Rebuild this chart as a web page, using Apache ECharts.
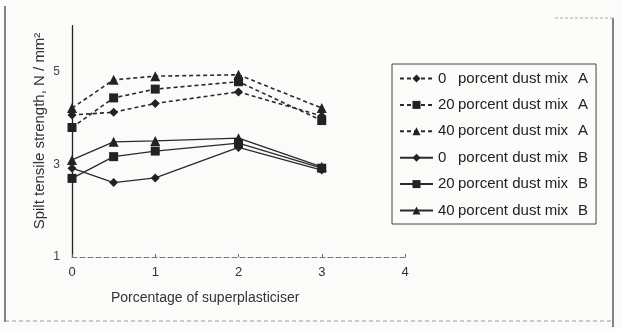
<!DOCTYPE html>
<html><head><meta charset="utf-8">
<script src="https://cdn.jsdelivr.net/npm/echarts@6/dist/echarts.min.js"></script>
<style>html,body{margin:0;padding:0;background:#fbfbf9}#c{width:622px;height:329px}</style>
</head><body><div id="c"></div>
<script>
const xValues = [0, 0.5, 1, 2, 3];
const percents = ['0', '20', '40'];
const mixes = ['A', 'B'];
const symbols = ['diamond', 'rect', 'triangle'];
// values per mix, per percent
const mixA0 = [4.07, 4.13, 4.32, 4.57, 4.05];
const mixA20 = [3.80, 4.44, 4.63, 4.79, 3.95];
const mixA40 = [4.22, 4.83, 4.91, 4.94, 4.22];
const mixB0 = [2.92, 2.61, 2.71, 3.37, 2.88];
const mixB20 = [2.70, 3.17, 3.29, 3.46, 2.92];
const mixB40 = [3.10, 3.49, 3.51, 3.57, 2.95];
const yTicks = [1, 3, 5];
const xTicks = [0, 1, 2, 3, 4];
const xTitle = 'Porcentage of superplasticiser';
const yTitle = 'Spilt tensile strength, N / mm\u00B2';

const dataSets = {A: [mixA0, mixA20, mixA40], B: [mixB0, mixB20, mixB40]};
const series = [];
mixes.forEach(m => {
  percents.forEach((p, i) => {
    series.push({
      name: p + ' porcent dust mix ' + m,
      type: 'line',
      data: xValues.map((x, k) => [x, dataSets[m][i][k]]),
      symbol: symbols[i],
      symbolSize: i === 2 ? 10 : 9,
      lineStyle: {color: '#2a2a2a', width: m === 'A' ? 1.6 : 1.3, type: m === 'A' ? [4, 3] : 'solid'},
      itemStyle: {color: '#222'},
      emphasis: {disabled: true},
      animation: false
    });
  });
});

const chart = echarts.init(document.getElementById('c'));
chart.setOption({
  backgroundColor: '#fbfbf9',
  textStyle: {fontFamily: 'Liberation Sans, Arial, sans-serif'},
  grid: {left: 72, top: 25.75, width: 333, height: 231.25, containLabel: false},
  xAxis: {
    type: 'value', min: xTicks[0], max: xTicks[xTicks.length - 1], interval: 1,
    axisLine: {lineStyle: {color: '#777', type: [5, 3], width: 1}},
    axisTick: {show: true, inside: true, length: 3, lineStyle: {color: '#666'}},
    axisLabel: {color: '#333', fontSize: 13, margin: 9},
    splitLine: {show: false}
  },
  yAxis: {
    type: 'value', min: 1, max: 6, interval: 2,
    axisLine: {lineStyle: {color: '#222', width: 1.3}},
    axisTick: {show: false},
    axisLabel: {color: '#444', fontSize: 12, margin: 12, showMaxLabel: false,
      formatter: v => yTicks.includes(v) ? String(v) : ''},
    splitLine: {show: false}
  },
  legend: {
    orient: 'vertical', left: 392, top: 64,
    padding: [7, 8, 6, 7],
    borderColor: '#444', borderWidth: 1,
    itemWidth: 33, itemHeight: 10, itemGap: 11.4,
    formatter: name => {
      const parts = name.split(' ');
      return '{n|' + parts[0] + '}{t|porcent dust mix}{s|' + parts[parts.length - 1] + '}';
    },
    textStyle: {
      color: '#222', fontSize: 15,
      rich: {
        n: {width: 20, fontSize: 15, color: '#222'},
        t: {fontSize: 15, color: '#222'},
        s: {fontSize: 15, color: '#222', padding: [0, 0, 0, 10]}
      }
    }
  },
  graphic: [
    {type: 'text', left: 111, top: 291, style: {text: xTitle, fill: '#333', font: '14px Liberation Sans, Arial, sans-serif'}},
    {type: 'text', x: 40, y: 131, rotation: Math.PI / 2,
      style: {text: yTitle, fill: '#333', font: '15px Liberation Sans, Arial, sans-serif', align: 'center', verticalAlign: 'middle'}},
    {type: 'line', shape: {x1: 5, y1: 6, x2: 5, y2: 322}, style: {stroke: '#333', lineWidth: 1.2}},
    {type: 'line', shape: {x1: 613, y1: 18, x2: 613, y2: 327}, style: {stroke: '#333', lineWidth: 1.2}},
    {type: 'line', shape: {x1: 5, y1: 321, x2: 613, y2: 321}, style: {stroke: '#999', lineWidth: 1, lineDash: [4, 3]}},
    {type: 'line', shape: {x1: 555, y1: 18, x2: 613, y2: 18}, style: {stroke: '#aaa', lineWidth: 1, lineDash: [3, 2]}}
  ],
  series: series
});
</script></body></html>
